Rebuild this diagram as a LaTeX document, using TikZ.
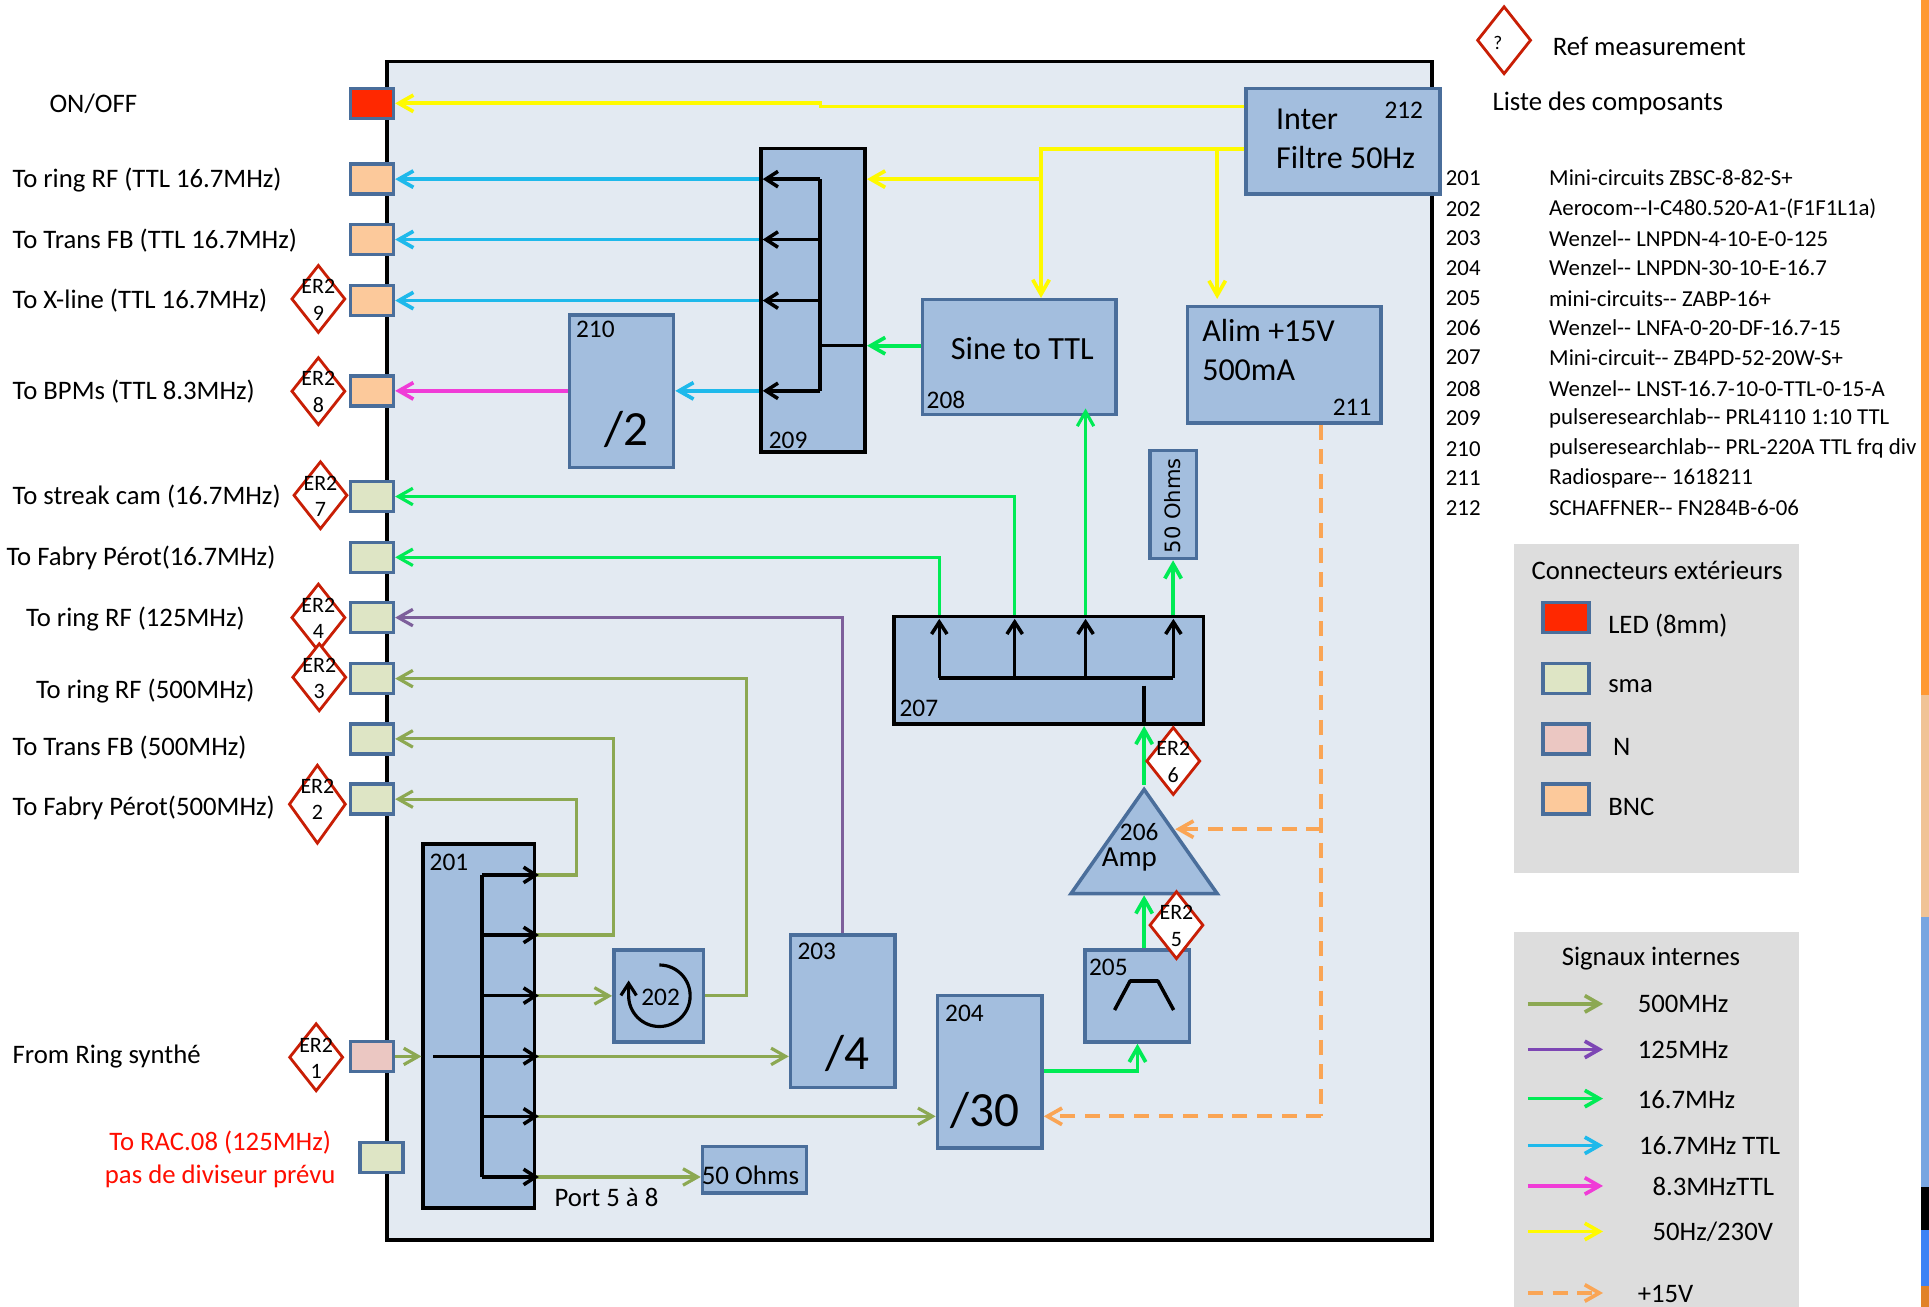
\documentclass[tikz,border=0pt]{standalone}
\usepackage{fontspec}
\setmainfont{Carlito}
\newfontfamily\wideface{DejaVu Sans}
\usetikzlibrary{arrows.meta,fit,shapes.geometric}
\definecolor{mainFill}{RGB}{227,234,242}
\definecolor{blockFill}{RGB}{163,190,222}
\definecolor{blockEdge}{RGB}{74,110,155}
\definecolor{bncFill}{RGB}{252,201,155}
\definecolor{smaFill}{RGB}{222,229,197}
\definecolor{nFill}{RGB}{235,199,194}
\definecolor{ledFill}{RGB}{255,40,0}
\definecolor{panelFill}{RGB}{221,221,221}
\definecolor{diaEdge}{RGB}{200,30,5}
\definecolor{sigOlive}{RGB}{140,168,82}
\definecolor{sigPurple}{RGB}{125,95,155}
\definecolor{sigPurpleKey}{RGB}{125,70,180}
\definecolor{sigGreen}{RGB}{0,235,85}
\definecolor{sigCyan}{RGB}{30,185,235}
\definecolor{sigPink}{RGB}{240,60,215}
\definecolor{sigYellow}{RGB}{255,250,0}
\definecolor{sigOrange}{RGB}{250,165,85}
\definecolor{edgeOrange}{RGB}{255,153,51}
\definecolor{edgeTan}{RGB}{240,195,150}
\definecolor{edgeBlue}{RGB}{120,165,225}
\definecolor{edgeBright}{RGB}{60,130,245}
\definecolor{edgeDark}{RGB}{225,130,40}
\tikzset{
  blockbox/.style={draw=blockEdge,fill=blockFill,line width=2pt,inner sep=0pt},
  splitbox/.style={draw=black,fill=blockFill,line width=2pt,inner sep=0pt},
  connbox/.style={draw=blockEdge,line width=2pt,minimum width=0.86cm,minimum height=0.6cm,inner sep=0pt},
  probe/.style={diamond,draw=diaEdge,fill=white,line width=1.6pt,aspect=0.8,inner sep=0pt,minimum width=1.08cm,minimum height=1.36cm},
  probetext/.style={font=\fontsize{12.5}{15}\selectfont,align=center,inner sep=0pt,yshift=-0.5pt},
  lab/.style={font=\fontsize{15.2}{18}\selectfont,anchor=west,inner sep=0pt,yshift=-1pt},
  num/.style={font=\fontsize{14.4}{17}\selectfont,inner sep=0pt},
  tab/.style={font=\fontsize{13}{15}\selectfont,anchor=west,inner sep=0pt,yshift=-0.5pt},
  bigtext/.style={font=\fontsize{18.2}{21}\selectfont,anchor=west,inner sep=0pt,yshift=-0.5pt},
  divtext/.style={font=\fontsize{28}{32}\selectfont,inner sep=0pt},
  sig/.style={line width=2.1pt,-{Straight Barb[length=2.9mm,width=3.3mm,line width=2.1pt]}},
  thinsig/.style={line width=1.8pt,-{Straight Barb[length=2.9mm,width=3.3mm,line width=1.8pt]}},
  inner/.style={line width=2pt,black,-{Straight Barb[length=2.4mm,width=3.1mm,line width=2pt]}},
  dashsig/.style={sig,sigOrange,dash pattern=on 8.5pt off 5.5pt},
  dashline/.style={line width=2.1pt,sigOrange,dash pattern=on 8.5pt off 5.5pt},
}
\begin{document}
\begin{tikzpicture}[x=0.0246cm,y=-0.0246cm]
  \useasboundingbox (0,0) rectangle (1568,1062);
  % right edge strip
  \fill[edgeOrange] (1561.5,0) rectangle (1568,565);
  \fill[edgeTan] (1561.5,565) rectangle (1568,745);
  \fill[edgeBlue] (1561.5,745) rectangle (1568,965);
  \fill[black] (1561.5,965) rectangle (1568,1000);
  \fill[edgeBright] (1561.5,1000) rectangle (1568,1045);
  \fill[edgeDark] (1561.5,1045) rectangle (1568,1062);

  % outer case
  \node[draw=black,fill=mainFill,line width=2.2pt,inner sep=0pt,fit={(314.6,50) (1164,1008)}] (caseBox) {};

  % side panels
  \node[fill=panelFill,inner sep=0pt,fit={(1231,442) (1462,709.5)}] (connPanel) {};
  \node[fill=panelFill,inner sep=0pt,fit={(1231,757.5) (1462,1062)}] (sigPanel) {};

  % connectors on the case wall
  \foreach \name/\y/\col in {onoff/84/ledFill,ringttl/145.6/bncFill,transttl/194.7/bncFill,xline/244.3/bncFill,bpm/317.7/bncFill,
    streak/403.6/smaFill,fabryttl/453/smaFill,ringlow/502/smaFill,ringhi/551.6/smaFill,transhi/600.6/smaFill,fabryhi/649.6/smaFill,synth/858.7/nFill}{
    \node[connbox,fill=\col] (c\name) at (302.3,\y) {};
  }
  \node[connbox,fill=smaFill] (crac) at (310,941) {};

  % blocks
  \node[splitbox,fit={(618.7,120.6) (703.3,367.3)}] (b209) {};
  \node[blockbox,fit={(463,256) (547.5,380)}] (b210) {};
  \node[blockbox,fit={(750,243.6) (907,337)}] (b208) {};
  \node[blockbox,fit={(965.3,249.3) (1122.6,343.7)}] (b211) {};
  \node[blockbox,fit={(1013,71.8) (1170.3,157.7)}] (b212) {};
  \node[blockbox,fit={(934.7,366) (972.4,454)}] (bload) {};
  \node[splitbox,fit={(726.7,501.3) (978.4,588.7)}] (b207) {};
  \node[splitbox,fit={(344,686) (434.5,982)}] (b201) {};
  \node[blockbox,fit={(499,772) (572,847)}] (b202) {};
  \node[blockbox,fit={(642.6,760) (727.7,884)}] (b203) {};
  \node[blockbox,fit={(762,809) (847,933)}] (b204) {};
  \node[blockbox,fit={(881.9,772) (966.8,847)}] (b205) {};
  \node[blockbox,fit={(571,932) (655.6,969.7)}] (bterm) {};
  \node[blockbox,isosceles triangle,isosceles triangle stretches,shape border rotate=90,
    minimum width=2.92cm,minimum height=2.08cm,anchor=apex] (b206) at (930,638) {};
  \coordinate (ampPower) at (955.3,674);
  \coordinate (psuTee) at (1073.9,674);
  \coordinate (psuCorner) at (1073.9,907.4);

  % signal wires
  \draw[sig,sigYellow] (b212.west |- 0,86.6) -- (667,86.6) -- (667,84) -- (conoff.east);
  \draw[sig,sigYellow] (b212.west |- 0,121.3) -| (b208.north -| 846.2,0);
  \draw[sig,sigYellow] (846.2,145.6) -- (b209.east |- 0,145.6);
  \draw[sig,sigYellow] (989.4,121.3) -- (989.4,243);
  \foreach \name in {ringttl,transttl,xline}{
    \draw[sig,sigCyan] (b209.west |- c\name) -- (c\name.east);
  }
  \draw[sig,sigCyan] (b209.west |- cbpm) -- (b210.east |- cbpm);
  \draw[sig,sigPink] (b210.west |- cbpm) -- (cbpm.east);
  \draw[sig,sigGreen] (b208.west |- 0,281) -- (b209.east |- 0,281);
  \draw[thinsig,sigGreen] (b207.north -| 763.5,0) |- (cfabryttl.east);
  \draw[thinsig,sigGreen] (b207.north -| 824.8,0) |- (cstreak.east);
  \draw[thinsig,sigGreen] (b207.north -| 882.4,0) -- (882.4,332);
  \draw[sig,sigGreen] (b207.north -| bload.south) -- (bload.south);
  \draw[thinsig,sigPurple] (b203.north) |- (cringlow.east);
  \draw[thinsig,sigOlive] (b202.east) -| (607,600) |- (cringhi.east);
  \draw[thinsig,sigOlive] (b201.east |- 0,711.2) -| (468.4,680) |- (cfabryhi.east);
  \draw[thinsig,sigOlive] (b201.east |- 0,760) -| (499,680) |- (ctranshi.east);
  \draw[thinsig,sigOlive] (b201.east |- b202.west) -- (b202.west);
  \draw[thinsig,sigOlive] (b201.east |- csynth) -- (b203.west |- csynth);
  \draw[thinsig,sigOlive] (b201.east |- 0,907.4) -- (b204.west |- 0,907.4);
  \draw[thinsig,sigOlive] (b201.east |- 0,956.7) -- (bterm.west |- 0,956.7);
  \draw[thinsig,sigOlive] (csynth.east) -- (b201.west |- csynth);
  \draw[sig,sigGreen] (b204.east |- 0,870.6) -| (b205.south -| 924.6,0);
  \draw[sig,sigGreen] (b205.north -| 930,0) -- (b206.lower side -| 930,0);
  \draw[sig,sigGreen] (b206.apex) -- (b207.south -| 930,0);
  \draw[dashline] (b211.south -| 1073.9,0) -- (psuCorner);
  \draw[dashsig] (psuCorner) -- (b204.east |- psuCorner);
  \draw[dashsig] (psuTee) -- (ampPower);

  % splitter insides
  \draw[line width=2pt] (666.7,145.6) -- (666.7,317.7);
  \draw[line width=2pt] (b209.east |- 0,281) -- (666.7,281);
  \foreach \y in {145.6,194.7,244.3,317.7}{
    \draw[inner] (666.7,\y) -- (620,\y);
  }
  \draw[line width=2pt] (392,711.2) -- (392,956.7);
  \foreach \y in {711.2,760,809.3,858.7,907.4,956.7}{
    \draw[inner] (392,\y) -- (438,\y);
  }
  \draw[line width=2pt] (352,858.7) -- (392,858.7);
  \draw[line width=2pt] (763.5,551.2) -- (953.8,551.2);
  \foreach \x in {763.5,824.8,882.4,953.8}{
    \draw[inner] (\x,551.2) -- (\x,503);
  }
  \draw[line width=2pt] (930,557.3) -- (b207.south -| 930,0);

  % filter and isolator marks
  \draw[line width=2pt,line join=round] (906,821) -- (918.6,797.4) -- (941.2,797.4) -- (954,821);
  \draw[line width=1.8pt,-{Straight Barb[length=2.4mm,width=3.1mm,line width=1.8pt]}] (536,784.4) arc[start angle=90,end angle=-180,x radius=25,y radius=-25] -- (511,797);

  % block texts
  \node[num,anchor=west] (t209) at (624.7,358) {209};
  \node[num,anchor=west] (t210) at (468,268) {210};
  \node[divtext] (t210d) at (509,349) {/2};
  \node[font=\fontsize{18.4}{21}\selectfont,inner sep=0pt] (t208a) at (831,283) {Sine to TTL};
  \node[num,anchor=west] (t208) at (753,325) {208};
  \node[bigtext] (t211a) at (977,268) {Alim +15V};
  \node[bigtext] (t211b) at (977,300) {500mA};
  \node[num,anchor=east] (t211) at (1115,331) {211};
  \node[bigtext] (t212a) at (1037,96) {Inter};
  \node[bigtext] (t212b) at (1037,127) {Filtre 50Hz};
  \node[num,anchor=east] (t212) at (1157,90) {212};
  \node[rotate=90,font=\wideface\fontsize{12}{14}\selectfont,inner sep=0pt] (tload) at (953.5,411) {50 Ohms};
  \node[num,anchor=west] (t207) at (731,576) {207};
  \node[num,anchor=west] (t201) at (349,701) {201};
  \node[num] (t202) at (537,811) {202};
  \node[num,anchor=west] (t203) at (648,773) {203};
  \node[divtext] (t203d) at (689,856) {/4};
  \node[num,anchor=west] (t204) at (768,824) {204};
  \node[divtext] (t204d) at (801,903) {/30};
  \node[num,anchor=west] (t205) at (885,786) {205};
  \node[num] (t206) at (926,676) {206};
  \node[font=\fontsize{16.5}{19}\selectfont,inner sep=0pt] (t206a) at (918,699) {Amp};
  \node[font=\fontsize{15.3}{17}\selectfont,inner sep=0pt] (tterm) at (610,955) {50 Ohms};
  \node[font=\fontsize{15.2}{16}\selectfont,inner sep=0pt] (tport) at (493,973) {Port 5 à 8};

  % probe points
  \foreach \n/\x/\y in {9/258.8/243,8/258.8/318,7/260.5/402.6,4/258.8/502,3/259.5/550.5,1/257/859.4,6/953.7/618.6,5/956.3/752}{
    \node[probe] (p\n) at (\x,\y) {};
    \node[probetext] (pt\n) at (\x,\y) {ER2\\\n};
  }
  \node[probe,minimum width=1.14cm,minimum height=1.58cm] (p2) at (258,653.7) {};
  \node[probetext] (pt2) at (258,649) {ER2\\2};
  \node[probe] (pref) at (1222.6,32.7) {};
  \node[font=\fontsize{11}{13}\selectfont,inner sep=0pt] (ptref) at (1217.5,35) {?};

  % outside labels
  \foreach \x/\y/\txt in {40/83/ON\slash OFF,10/145/To ring RF (TTL 16.7MHz),10/194/To Trans FB (TTL 16.7MHz),10/243/To X-line (TTL 16.7MHz),
    10/317/To BPMs (TTL 8.3MHz),10/402/To streak cam (16.7MHz),5/452/To Fabry Pérot(16.7MHz),21/502/To ring RF (125MHz),29/560/To ring RF (500MHz),
    10/606/To Trans FB (500MHz),10/655/To Fabry Pérot(500MHz),10/857/From Ring synthé,1262/36/Ref measurement,1213/83/Liste des composants}{
    \node[lab] at (\x,\y) {\txt};
  }
  \node[lab,red!90!orange,align=center,anchor=center] (tracnote) at (179,941) {To RAC.08 (125MHz)\\[1pt]pas de diviseur prévu};

  % component list
  \foreach \y/\n/\txt in {144/201/Mini-circuits ZBSC-8-82-S+,169/202/Aerocom-{}-I-C480.520-A1-(F1F1L1a),193/203/Wenzel-{}- LNPDN-4-10-E-0-125,
    217/204/Wenzel-{}- LNPDN-30-10-E-16.7,242/205/mini-circuits-{}- ZABP-16+,266/206/Wenzel-{}- LNFA-0-20-DF-16.7-15,290/207/Mini-circuit-{}- ZB4PD-52-20W-S+,
    315/208/Wenzel-{}- LNST-16.7-10-0-TTL-0-15-A,339/209/pulseresearchlab-{}- PRL4110 1:10 TTL,364/210/pulseresearchlab-{}- PRL-220A TTL frq div,
    388/211/Radiospare-{}- 1618211,412/212/SCHAFFNER-{}- FN284B-6-06}{
    \node[tab] at (1175,\y) {\n};
    \node[tab] at (1259,\y) {\txt};
  }

  % connector key
  \node[num,font=\fontsize{15.2}{18}\selectfont] (tconn) at (1347,464) {Connecteurs extérieurs};
  \foreach \y/\col/\tx/\txt in {502/ledFill/1307/LED (8mm),551.6/smaFill/1307/sma,600.6/nFill/1311/N,649.6/bncFill/1307/BNC}{
    \node[connbox,fill=\col,minimum width=0.92cm] at (1273,\y) {};
    \node[lab] at (\tx,\y+5) {\txt};
  }

  % signal key
  \node[num,font=\fontsize{15.2}{18}\selectfont] (tsig) at (1342,779) {Signaux internes};
  \foreach \y/\col/\tx/\txt in {816/sigOlive/1331/500MHz,853/sigPurpleKey/1331/125MHz,893/sigGreen/1331/16.7MHz,931/sigCyan/1332/16.7MHz TTL,964/sigPink/1343/8.3MHzTTL,1001/sigYellow/1343/50Hz\slash 230V}{
    \coordinate (kl) at (1242,\y);
    \coordinate (kr) at (1303,\y);
    \draw[sig,\col] (kl) -- (kr);
    \node[lab] at (\tx,\y-1) {\txt};
  }
  \coordinate (kl) at (1242,1051);
  \coordinate (kr) at (1303,1051);
  \draw[dashsig] (kl) -- (kr);
  \node[lab] (tkey) at (1331,1050) {+15V};
\end{tikzpicture}
\end{document}
